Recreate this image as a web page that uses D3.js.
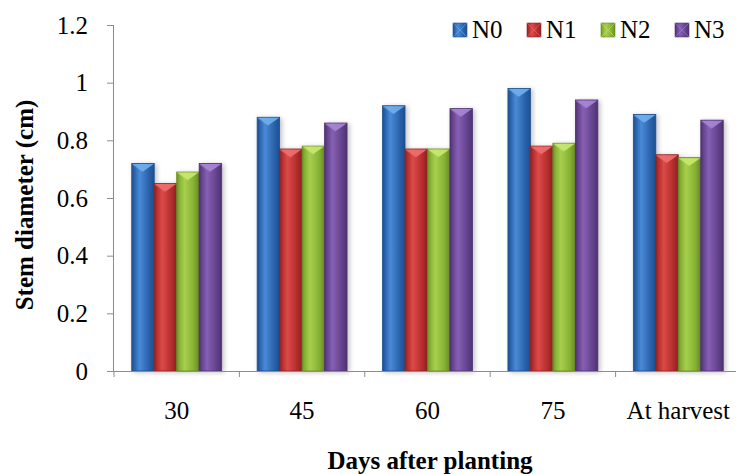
<!DOCTYPE html>
<html><head><meta charset="utf-8">
<script src="https://cdn.jsdelivr.net/npm/d3@7"></script>
<style>body{margin:0;background:#fff}svg{display:block}</style>
</head><body><svg id="c" width="736" height="474"></svg>
<script>
const categories = ["30","45","60","75","At harvest"];
const seriesNames = ["N0","N1","N2","N3"];
const N0 = [0.72,0.88,0.92,0.98,0.89];
const N1 = [0.65,0.77,0.77,0.78,0.75];
const N2 = [0.69,0.78,0.77,0.79,0.74];
const N3 = [0.72,0.86,0.91,0.94,0.87];
const yTicks = [0,0.2,0.4,0.6,0.8,1,1.2];
const yTickLabels = ["0","0.2","0.4","0.6","0.8","1","1.2"];
const colors = {N0:["#2a63ad","#4a8ad6","#1f4f8e"],N1:["#b52e2e","#dc4a48","#8f2222"],N2:["#86b233","#a8cf4e","#6a8c25"],N3:["#65438f","#8660b3","#4e3270"]};
const topColors = {N0:"#6fb0f0",N1:"#f07070",N2:"#c9e870",N3:"#a886d8"};
const seriesData = {N0,N1,N2,N3};

const svg = d3.select("#c");
const m = {l:114,r:741,t:25,b:371};
const x = d3.scaleBand().domain(categories).range([m.l,m.r]).paddingInner(0.283).paddingOuter(0.1415);
const xs = d3.scaleBand().domain(seriesNames).range([0,x.bandwidth()]);
const y = d3.scaleLinear().domain([0,1.2]).range([m.b,m.t]);
const font = "'Liberation Serif','Times New Roman',serif";
const fs = 25;

const defs = svg.append("defs");
seriesNames.forEach(s=>{
  const g = defs.append("linearGradient").attr("id","g"+s).attr("x1","0").attr("x2","1").attr("y1","0").attr("y2","0");
  const c = colors[s];
  g.append("stop").attr("offset","0").attr("stop-color",c[2]);
  g.append("stop").attr("offset","0.12").attr("stop-color",c[0]);
  g.append("stop").attr("offset","0.35").attr("stop-color",c[1]);
  g.append("stop").attr("offset","0.75").attr("stop-color",c[0]);
  g.append("stop").attr("offset","1").attr("stop-color",c[2]);
});
const flt = defs.append("filter").attr("id","sh").attr("x","-30%").attr("y","-10%").attr("width","160%").attr("height","120%");
flt.append("feGaussianBlur").attr("in","SourceAlpha").attr("stdDeviation","2.5").attr("result","b");
flt.append("feOffset").attr("in","b").attr("dx","2").attr("dy","1").attr("result","o");
flt.append("feComponentTransfer").attr("in","o").attr("result","t").append("feFuncA").attr("type","linear").attr("slope","0.25");
const mg = flt.append("feMerge"); mg.append("feMergeNode").attr("in","t"); mg.append("feMergeNode").attr("in","SourceGraphic");

// bars
const groups = svg.append("g").selectAll("g").data(categories).join("g")
  .attr("transform",d=>`translate(${x(d)},0)`);
seriesNames.forEach(s=>{
  groups.each(function(cat,i){
    const v = seriesData[s][i];
    const bx = xs(s), bw = xs.bandwidth(), by = y(v), bh = y(0)-y(v);
    const g = d3.select(this).append("g").attr("filter","url(#sh)");
    g.append("rect").attr("x",bx).attr("y",by).attr("width",bw).attr("height",bh)
      .attr("fill",`url(#g${s})`).attr("stroke",colors[s][2]).attr("stroke-width",0.8);
    g.append("path").attr("d",`M${bx+0.5},${by+0.5}L${bx+bw-0.5},${by+0.5}L${bx+bw/2},${by+8}Z`)
      .attr("fill",topColors[s]).attr("opacity",0.9);
    g.append("path").attr("d",`M${bx+0.5},${by+0.5}L${bx+bw/2},${by+8}L${bx+bw/2},${by+9}L${bx+0.5},${by+1.5}Z`)
      .attr("fill","#fff").attr("opacity",0.15);
  });
});

// axes
const ya = svg.append("g").attr("transform",`translate(${m.l},0)`)
  .call(d3.axisLeft(y).tickValues(yTicks).tickFormat((d,i)=>yTickLabels[i]).tickSize(7).tickPadding(19));
ya.attr("font-family",font).attr("font-size",fs);
ya.select(".domain").attr("stroke","#8c8c8c").attr("d",`M-0.5,${m.t}V${m.b}`);
ya.selectAll(".tick line").attr("stroke","#8c8c8c");
ya.selectAll("text").attr("font-family",font).attr("font-size",fs).attr("fill","#000");

const xa = svg.append("g").attr("transform",`translate(0,${m.b})`)
  .call(d3.axisBottom(x).tickSize(0));
xa.attr("font-family",font).attr("font-size",fs);
xa.select(".domain").attr("stroke","#8c8c8c").attr("d",`M${m.l-7},0.5H${m.r}`);
xa.selectAll("text").attr("font-family",font).attr("font-size",fs).attr("fill","#000").attr("y",48).attr("dy",0);
const bounds = categories.map(c=>x(c)-x.step()*x.paddingInner()/2).concat([m.r]);
svg.append("g").selectAll("line").data(bounds).join("line")
  .attr("x1",d=>d).attr("x2",d=>d).attr("y1",m.b).attr("y2",m.b+6).attr("stroke","#8c8c8c");

// titles
svg.append("text").attr("x",430).attr("y",469).attr("text-anchor","middle")
  .attr("font-family",font).attr("font-size",fs).attr("font-weight","bold").text("Days after planting");
svg.append("text").attr("transform","translate(33,205) rotate(-90)").attr("text-anchor","middle")
  .attr("font-family",font).attr("font-size",fs).attr("font-weight","bold").text("Stem diameter (cm)");

// legend
const leg = svg.append("g").selectAll("g").data(seriesNames).join("g")
  .attr("transform",(d,i)=>`translate(${453+i*74},23)`);
leg.append("rect").attr("width",14).attr("height",14).attr("fill",d=>`url(#g${d})`).attr("stroke",d=>colors[d][2]).attr("stroke-width",0.6);
leg.append("path").attr("d","M0,0L14,14M14,0L0,14").attr("stroke",d=>topColors[d]).attr("stroke-width",0.8).attr("opacity",0.7);
leg.append("text").attr("x",19).attr("y",14.5).attr("font-family",font).attr("font-size",fs).text(d=>d);
</script></body></html>
